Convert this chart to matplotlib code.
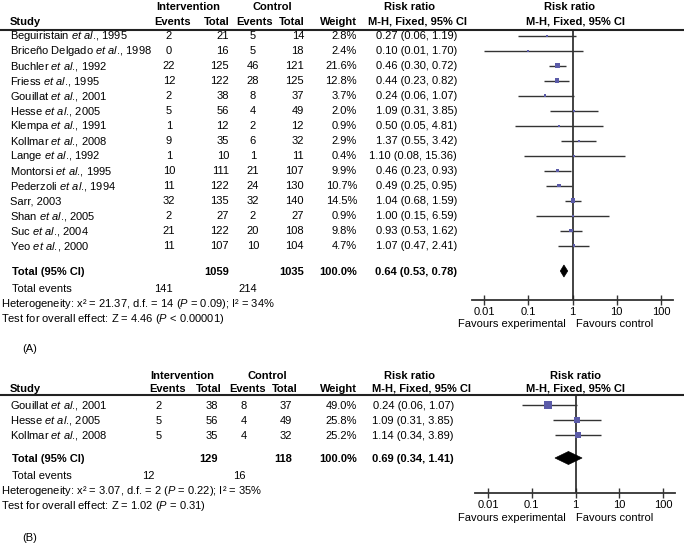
import matplotlib
matplotlib.use("Agg")
import matplotlib.pyplot as plt
from matplotlib.patches import Polygon
import numpy as np

plt.rcParams['font.family'] = ['Liberation Sans', 'DejaVu Sans']
plt.rcParams['mathtext.fontset'] = 'custom'
plt.rcParams['mathtext.rm'] = 'Liberation Sans'
plt.rcParams['mathtext.it'] = 'Liberation Sans:italic'
plt.rcParams['mathtext.bf'] = 'Liberation Sans:bold'

# ---------------- data: panel A ----------------
studies_a = ["Beguiristain", "Briceño Delgado", "Buchler", "Friess", "Gouillat", "Hesse",
             "Klempa", "Kollmar", "Lange", "Montorsi", "Pederzoli", "Sarr", "Shan", "Suc", "Yeo"]
etal_a = [True, True, True, True, True, True, True, True, True, True, True, False, True, True, True]
years_a = [1995, 1998, 1992, 1995, 2001, 2005, 1991, 2008, 1992, 1995, 1994, 2003, 2005, 2004, 2000]
int_events_a = [2, 0, 22, 12, 2, 5, 1, 9, 1, 10, 11, 32, 2, 21, 11]
int_total_a = [21, 16, 125, 122, 38, 56, 12, 35, 10, 111, 122, 135, 27, 122, 107]
ctl_events_a = [5, 5, 46, 28, 8, 4, 2, 6, 1, 21, 24, 32, 2, 20, 10]
ctl_total_a = [14, 18, 121, 125, 37, 49, 12, 32, 11, 107, 130, 140, 27, 108, 104]
weight_a = [2.8, 2.4, 21.6, 12.8, 3.7, 2.0, 0.9, 2.9, 0.4, 9.9, 10.7, 14.5, 0.9, 9.8, 4.7]
rr_a = [0.27, 0.10, 0.46, 0.44, 0.24, 1.09, 0.50, 1.37, 1.10, 0.46, 0.49, 1.04, 1.00, 0.93, 1.07]
lo_a = [0.06, 0.01, 0.30, 0.23, 0.06, 0.31, 0.05, 0.55, 0.08, 0.23, 0.25, 0.68, 0.15, 0.53, 0.47]
hi_a = [1.19, 1.70, 0.72, 0.82, 1.07, 3.85, 4.81, 3.42, 15.36, 0.93, 0.95, 1.59, 6.59, 1.62, 2.41]
total_a = {"int_total": 1059, "ctl_total": 1035, "rr": 0.64, "lo": 0.53, "hi": 0.78,
           "int_events": 141, "ctl_events": 214}
het_a = "Heterogeneity: x² = 21.37, d.f. = 14 ($\\mathit{P}$ = 0.09); I² = 34%"
test_a = "Test for overall effect: Z = 4.46 ($\\mathit{P}$ < 0.00001)"

# ---------------- data: panel B ----------------
studies_b = ["Gouillat", "Hesse", "Kollmar"]
etal_b = [True, True, True]
years_b = [2001, 2005, 2008]
int_events_b = [2, 5, 5]
int_total_b = [38, 56, 35]
ctl_events_b = [8, 4, 4]
ctl_total_b = [37, 49, 32]
weight_b = [49.0, 25.8, 25.2]
rr_b = [0.24, 1.09, 1.14]
lo_b = [0.06, 0.31, 0.34]
hi_b = [1.07, 3.85, 3.89]
total_b = {"int_total": 129, "ctl_total": 118, "rr": 0.69, "lo": 0.34, "hi": 1.41,
           "int_events": 12, "ctl_events": 16}
het_b = "Heterogeneity: x² = 3.07, d.f. = 2 ($\\mathit{P}$ = 0.22); I² = 35%"
test_b = "Test for overall effect: Z = 1.02 ($\\mathit{P}$ = 0.31)"

tick_vals = [0.01, 0.1, 1, 10, 100]
tick_labels = ["0.01", "0.1", "1", "10", "100"]

W, H = 686, 550
FS = 8.0
TXT = "#000000"
SQ = "#5b5ba8"
LN = "#333333"
BASE = 3.8  # offset from visual centre to baseline (px)

fig = plt.figure(figsize=(W / 100, H / 100), dpi=100)
bg = fig.add_axes([0, 0, 1, 1])
bg.set_xlim(0, W)
bg.set_ylim(H, 0)
bg.axis("off")


def t(x, y, s, ha="left", bold=False, **kw):
    return bg.text(x, y + BASE, s, ha=ha, va="baseline", fontsize=FS, color=TXT,
                   fontweight="bold" if bold else "normal", **kw)


def study_label(name, etal, year):
    if etal:
        return name + " $\\mathit{et\\ al}$., " + str(year)
    return name + ", " + str(year)


def panel(cfg, studies, etal, years, ie, it, ce, ct, w, rr, lo, hi, tot, het, test, tag):
    y0 = cfg["y0"]
    # headers
    t(cfg["c_int"], y0, "Intervention", ha="center", bold=True)
    t(cfg["c_ctl"], y0, "Control", ha="center", bold=True)
    t(410, y0, "Risk ratio", ha="center", bold=True)
    t(cfg["rr_head"], y0, "Risk ratio", ha="center", bold=True)
    y1 = cfg["y1"]
    hx = cfg["hx"]
    t(10, y1, "Study", bold=True)
    t(hx[0], y1, "Events", ha="center", bold=True)
    t(hx[1], y1, "Total", ha="right", bold=True)
    t(hx[2], y1, "Events", ha="center", bold=True)
    t(hx[3], y1, "Total", ha="right", bold=True)
    t(357, y1, "Weight", ha="right", bold=True)
    t(cfg["mh_x"], y1, "M-H, Fixed, 95% CI", ha="center", bold=True)
    t(576, y1, "M-H, Fixed, 95% CI", ha="center", bold=True)
    bg.plot([0, 684], [cfg["rule"], cfg["rule"]], color="#222222", lw=1.5,
            solid_capstyle="butt")
    # rows
    ys = [cfg["row0"] + i * 15 for i in range(len(studies))]
    for i, y in enumerate(ys):
        t(10, y, study_label(studies[i], etal[i], years[i]))
        t(cfg["ev_i"], y, str(ie[i]), ha="center")
        t(cfg["tot_i"], y, str(it[i]), ha="right")
        t(cfg["ev_c"], y, str(ce[i]), ha="center")
        t(cfg["tot_c"], y, str(ct[i]), ha="right")
        t(357, y, f"{w[i]:.1f}%", ha="right")
        t(cfg["ci_r"], y, f"{rr[i]:.2f} ({lo[i]:.2f}, {hi[i]:.2f})", ha="right")
    yt = cfg["ytot"]
    t(12, yt, "Total (95% CI)", bold=True)
    t(cfg["tot_i"], yt, str(tot["int_total"]), ha="right", bold=True)
    t(cfg["tot_c"], yt, str(tot["ctl_total"]), ha="right", bold=True)
    t(357, yt, "100.0%", ha="right", bold=True)
    t(cfg["ci_r"], yt, f"{tot['rr']:.2f} ({tot['lo']:.2f}, {tot['hi']:.2f})", ha="right", bold=True)
    t(12, yt + 17, "Total events")
    t(cfg["te_i"], yt + 17, str(tot["int_events"]), ha="center")
    t(cfg["te_c"], yt + 17, str(tot["ctl_events"]), ha="center")
    t(1, yt + 32, het)
    t(1, yt + 47, test)
    t(22, cfg["ytag"], tag)

    # forest axes
    ax_l, ax_r = cfg["ax_l"], cfg["ax_r"]
    p01, p100 = cfg["p01"], cfg["p100"]
    d = (p100 - p01) / 4.0
    xlo = 10 ** (-2 - (p01 - ax_l) / d)
    xhi = 10 ** (2 + (ax_r - p100) / d)
    top, bot = cfg["rule"], cfg["axis_y"]
    ax = fig.add_axes([ax_l / W, 1 - bot / H, (ax_r - ax_l) / W, (bot - top) / H])
    ax.set_xscale("log")
    ax.set_xlim(xlo, xhi)
    ax.set_ylim(bot, top)
    ax.patch.set_visible(False)
    for s in ["top", "left", "right"]:
        ax.spines[s].set_visible(False)
    ax.spines["bottom"].set_color(LN)
    ax.spines["bottom"].set_linewidth(1.3)
    ax.set_yticks([])
    ax.set_xticks(tick_vals, tick_labels)
    ax.minorticks_off()
    ax.tick_params(axis="x", direction="inout", length=7, width=1.0, color=LN,
                   labelsize=FS, labelcolor=TXT, pad=1.5)
    ax.axvline(1, color="#222222", lw=1.2)
    ax.hlines(ys, lo, hi, color=LN, lw=1.0, clip_on=False)
    sides_px = [max(2.0, 1.12 * np.sqrt(v)) for v in w]
    ax.scatter(rr, ys, marker="s", s=[(sp * 0.72) ** 2 for sp in sides_px],
               color=SQ, edgecolors="none", zorder=3, clip_on=False)
    hh = cfg["dia_h"] / 2.0
    dia = Polygon([(tot["lo"], yt), (tot["rr"], yt - hh), (tot["hi"], yt), (tot["rr"], yt + hh)],
                  closed=True, facecolor="black", edgecolor="black", lw=0.5, zorder=4)
    ax.add_patch(dia)
    t(512, cfg["fav_y"], "Favours experimental", ha="center")
    t(615, cfg["fav_y"], "Favours control", ha="center")


cfg_a = dict(y0=6, y1=21, rule=29.5, row0=35.5, ytot=271, ytag=348,
             c_int=188, c_ctl=272, rr_head=569, mh_x=418,
             hx=[173, 230, 255, 305],
             ev_i=169, tot_i=229, ev_c=253, tot_c=304, ci_r=457,
             te_i=163, te_c=248,
             ax_l=472, ax_r=673, p01=484, p100=661, axis_y=300, fav_y=323, dia_h=12)
cfg_b = dict(y0=375, y1=388, rule=395, row0=405, ytot=458, ytag=537,
             c_int=182, c_ctl=267, rr_head=575, mh_x=422,
             hx=[168, 222, 248, 298],
             ev_i=159, tot_i=218, ev_c=244, tot_c=292, ci_r=454,
             te_i=148, te_c=239,
             ax_l=475, ax_r=675, p01=488, p100=663, axis_y=493, fav_y=517, dia_h=13)

panel(cfg_a, studies_a, etal_a, years_a, int_events_a, int_total_a, ctl_events_a, ctl_total_a,
      weight_a, rr_a, lo_a, hi_a, total_a, het_a, test_a, "(A)")
panel(cfg_b, studies_b, etal_b, years_b, int_events_b, int_total_b, ctl_events_b, ctl_total_b,
      weight_b, rr_b, lo_b, hi_b, total_b, het_b, test_b, "(B)")

fig.savefig("out.png", dpi=100)
